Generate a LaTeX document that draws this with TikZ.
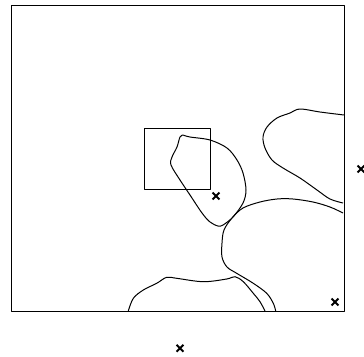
\documentclass[tikz,border=0pt]{standalone}
\usepackage{tikz}
\usetikzlibrary{shapes.misc}

\begin{document}
\begin{tikzpicture}[
    x=0.03cm, y=-0.03cm,
    outline/.style={draw=black, line width=0.8pt, line join=round},
    region/.style={draw=black, line width=0.85pt, smooth, tension=0.55},
    xmark/.style={cross out, draw=black, line width=1.6pt, minimum size=0.15cm, inner sep=0pt}
  ]
    \useasboundingbox (0,0) rectangle (364,356);

    % Frames
    \draw [outline] (11.7,5.7) rectangle (344,311);
    \draw [outline] (144.3,128.3) rectangle (210.7,189.3);

    % Regions
    \draw [region] plot coordinates {(183,135) (190,137) (210,140) (227,148) (237,160) (243,173) (246,190) (243,203) (233,217) (223,225) (218,226) (210,222) (202,213) (190,195) (180,180) (171,165) (172,157) (177,147) (180,137) (183,135)};
    \draw [region] plot coordinates {(344,115) (320,112) (300,109) (290,113) (277,118) (267,127) (263,137) (265,148) (272,160) (283,168) (300,178) (317,190) (330,199) (343,203)};
    \draw [region] plot coordinates {(343,213) (330,207) (313,202) (293,199) (277,199) (260,202) (243,208) (232,218) (224,230) (222,243) (222,257) (227,267) (236.7,273.3) (253.3,283.3) (266.7,293.3) (273.3,303.3) (275.7,311)};
    \draw [region] plot coordinates {(128.3,311) (133.3,298.3) (143.3,290) (156.7,283.3) (166.7,277.3) (176.7,278.3) (203.3,281.7) (226.7,279) (235,276.7) (243.3,281.7) (253.3,293.3) (260,301.7) (265,311)};

    % Marks
    \node (m1) [xmark] at (216,196) {};
    \node (m2) [xmark] at (361,169) {};
    \node (m3) [xmark] at (335,302) {};
    \node (m4) [xmark] at (180,348.3) {};
  \end{tikzpicture}
\end{document}
